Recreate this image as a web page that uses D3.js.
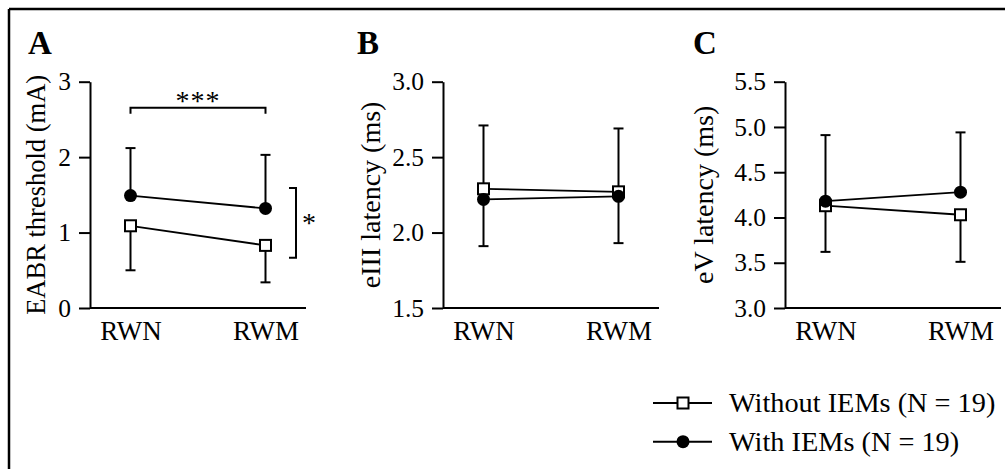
<!DOCTYPE html>
<html>
<head>
<meta charset="utf-8">
<script src="https://cdn.jsdelivr.net/npm/d3@7"></script>
<style>
body { margin: 0; background: #fff; }
svg { display: block; font-family: "Liberation Serif", "Times New Roman", serif; }
</style>
</head>
<body>
<svg id="chart" width="1005" height="469"></svg>
<script>
// categories
const categories = ["RWN", "RWM"]

// A: EABR threshold (mA)
const thrWith = [1.49, 1.32]
const thrWithSD = [0.63, 0.71]
const thrWithout = [1.09, 0.83]
const thrWithoutSD = [0.59, 0.49]

// B: eIII latency (ms)
const e3With = [2.22, 2.24]
const e3WithSD = [0.49, 0.45]
const e3Without = [2.29, 2.27]
const e3WithoutSD = [0.38, 0.34]

// C: eV latency (ms)
const e5With = [4.18, 4.28]
const e5WithSD = [0.73, 0.66]
const e5Without = [4.13, 4.03]
const e5WithoutSD = [0.51, 0.52]

// tick labels
const ticksA = [0, 1, 2, 3]
const ticksB = [1.5, 2.0, 2.5, 3.0]
const ticksC = [3.0, 3.5, 4.0, 4.5, 5.0, 5.5]

const legendLabels = ["Without IEMs (N = 19)", "With IEMs (N = 19)"]

const FONT = "'Liberation Serif', 'Times New Roman', serif"

var svg = d3.select('#chart')

// frame (top + left edge only)
svg.append("line").attr("x1", 9).attr("x2", 1005).attr("y1", 9).attr("y2", 9)
    .attr("stroke", "#000").attr("stroke-width", 2.5)
svg.append("line").attr("x1", 9).attr("x2", 9).attr("y1", 9).attr("y2", 469)
    .attr("stroke", "#000").attr("stroke-width", 2.5)

var yTop = 81.7, yBot = 308, axW = 216

var panels = [
    { letter: "A", x0: 90, lx: 28, domain: [0, 3], ticks: ticksA, fmt: d3.format("d"),
      label: "EABR threshold (mA)", labOff: 45, labSize: 26.5,
      withM: thrWith, withSD: thrWithSD, woM: thrWithout, woSD: thrWithoutSD },
    { letter: "B", x0: 443, lx: 357, domain: [1.5, 3], ticks: ticksB, fmt: d3.format(".1f"),
      label: "eIII latency (ms)", labOff: 63, labSize: 28,
      withM: e3With, withSD: e3WithSD, woM: e3Without, woSD: e3WithoutSD },
    { letter: "C", x0: 785, lx: 693, domain: [3, 5.5], ticks: ticksC, fmt: d3.format(".1f"),
      label: "eV latency (ms)", labOff: 72, labSize: 28,
      withM: e5With, withSD: e5WithSD, woM: e5Without, woSD: e5WithoutSD }
]

panels.forEach((p) => {
    var g = svg.append("g").attr("transform", "translate(" + p.x0 + ",0)")
    var x = d3.scalePoint().domain(categories).range([0, axW]).padding(0.3)
    var y = d3.scaleLinear().domain(p.domain).range([yBot, yTop])
    p.x = x; p.y = y; p.g = g

    // axes
    g.append("g")
        .call(d3.axisLeft(y).tickValues(p.ticks).tickFormat(p.fmt)
            .tickSize(11).tickSizeOuter(0).tickPadding(8))
        .attr("font-family", FONT).attr("font-size", 25.5)
    var xa = g.append("g").attr("transform", "translate(0," + yBot + ")")
        .call(d3.axisBottom(x).tickSize(0).tickSizeOuter(0).tickPadding(13))
        .attr("font-family", FONT).attr("font-size", 27)
    xa.select(".domain").attr("d", "M0,0H" + axW)
    g.selectAll(".domain, .tick line").attr("stroke", "#000").attr("stroke-width", 2)
    g.selectAll(".tick text").attr("fill", "#000")

    // y label
    g.append("text")
        .attr("transform", "translate(" + (-p.labOff) + "," + ((yTop + yBot) / 2) + ") rotate(-90)")
        .attr("text-anchor", "middle").attr("font-size", p.labSize).text(p.label)

    // panel letter
    svg.append("text").attr("x", p.lx).attr("y", 54)
        .attr("font-size", 33).attr("font-weight", "bold").text(p.letter)

    // error bars: with -> upper, without -> lower
    var cap = 5
    categories.forEach((c, i) => {
        var cx = x(c)
        var yUp = y(p.withM[i] + p.withSD[i])
        var yLo = y(p.woM[i] - p.woSD[i])
        g.append("line").attr("x1", cx).attr("x2", cx)
            .attr("y1", y(p.withM[i])).attr("y2", yUp)
            .attr("stroke", "#000").attr("stroke-width", 2)
        g.append("line").attr("x1", cx - cap).attr("x2", cx + cap)
            .attr("y1", yUp).attr("y2", yUp).attr("stroke", "#000").attr("stroke-width", 2)
        g.append("line").attr("x1", cx).attr("x2", cx)
            .attr("y1", y(p.woM[i])).attr("y2", yLo)
            .attr("stroke", "#000").attr("stroke-width", 2)
        g.append("line").attr("x1", cx - cap).attr("x2", cx + cap)
            .attr("y1", yLo).attr("y2", yLo).attr("stroke", "#000").attr("stroke-width", 2)
    })

    var line = d3.line().x((d, i) => x(categories[i])).y((d) => y(d))
    g.append("path").attr("d", line(p.withM)).attr("fill", "none")
        .attr("stroke", "#000").attr("stroke-width", 1.8)
    g.append("path").attr("d", line(p.woM)).attr("fill", "none")
        .attr("stroke", "#000").attr("stroke-width", 1.8)

    g.selectAll("rect.wo").data(p.woM).enter().append("rect")
        .attr("class", "wo")
        .attr("x", (d, i) => x(categories[i]) - 5.5)
        .attr("y", (d) => y(d) - 5.5)
        .attr("width", 11).attr("height", 11)
        .attr("fill", "#fff").attr("stroke", "#000").attr("stroke-width", 2)
    g.selectAll("circle.w").data(p.withM).enter().append("circle")
        .attr("class", "w")
        .attr("cx", (d, i) => x(categories[i]))
        .attr("cy", (d) => y(d))
        .attr("r", 6.5).attr("fill", "#000")
})

// significance brackets (panel A)
var pa = panels[0]
var bx1 = pa.x("RWN"), bx2 = pa.x("RWM"), by = 107.7
pa.g.append("path")
    .attr("d", "M" + bx1 + "," + (by + 6) + "V" + by + "H" + bx2 + "V" + (by + 6))
    .attr("fill", "none").attr("stroke", "#000").attr("stroke-width", 2)
pa.g.append("text").attr("x", (bx1 + bx2) / 2).attr("y", 110)
    .attr("text-anchor", "middle").attr("font-size", 28).attr("letter-spacing", 1).text("***")

var rx = axW - 10
var ry1 = 188, ry2 = 257.7
pa.g.append("path")
    .attr("d", "M" + (rx - 7) + "," + ry1 + "H" + rx + "V" + ry2 + "H" + (rx - 7))
    .attr("fill", "none").attr("stroke", "#000").attr("stroke-width", 2)
pa.g.append("text").attr("x", rx + 6).attr("y", 232)
    .attr("font-size", 28).text("*")

// legend
var lg = svg.append("g")
legendLabels.forEach((t, i) => {
    var ly = 403 + i * 38.7
    lg.append("line").attr("x1", 653).attr("x2", 712).attr("y1", ly).attr("y2", ly)
        .attr("stroke", "#000").attr("stroke-width", 2)
    if (i === 0) {
        lg.append("rect").attr("x", 683 - 5.5).attr("y", ly - 5.5)
            .attr("width", 11).attr("height", 11)
            .attr("fill", "#fff").attr("stroke", "#000").attr("stroke-width", 2)
    } else {
        lg.append("circle").attr("cx", 683).attr("cy", ly).attr("r", 6.5).attr("fill", "#000")
    }
    lg.append("text").attr("x", 729).attr("y", ly + 9).attr("font-size", 28.3).text(t)
})
</script>
</body>
</html>
